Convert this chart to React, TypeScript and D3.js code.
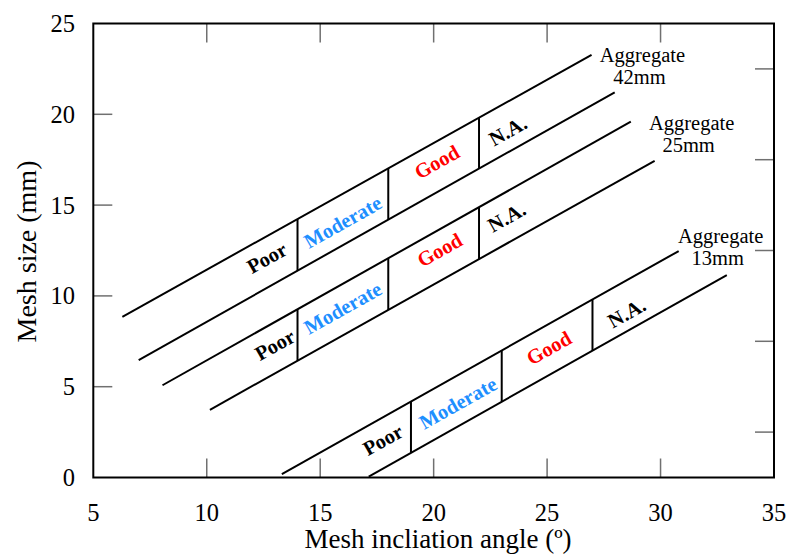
import React from "react";
import * as d3 from "d3";

const xTicks = [5, 10, 15, 20, 25, 30, 35];
const yTicks = [0, 5, 10, 15, 20, 25];
const yRightTicks = [2.5, 7.5, 12.5, 17.5, 22.5];

const aggregates = ["42mm", "25mm", "13mm"];
// boundary lines of each aggregate band: [xStart, yStart, xEnd, yEnd]
const upperLines = [
  [6.28, 8.85, 26.96, 23.27],
  [8.05, 5.08, 28.69, 19.59],
  [13.31, 0.19, 30.8, 12.47],
];
const lowerLines = [
  [7.0, 6.47, 27.98, 21.21],
  [10.14, 3.73, 29.74, 17.44],
  [17.14, 0.05, 32.92, 11.15],
];
const dividers = [
  [14, 18, 22],
  [14, 18, 22],
  [19, 23, 27],
];

const categories = ["Poor", "Moderate", "Good", "N.A."];
const categoryColors = ["#000000", "#1e8fff", "#ff0000", "#000000"];
const labelX = [
  [12.65, 16.0, 20.14, 23.27],
  [13.0, 16.0, 20.27, 23.22],
  [17.76, 21.07, 25.08, 28.51],
];
const labelY = [
  [12.09, 14.07, 17.37, 19.08],
  [7.3, 9.33, 12.53, 14.34],
  [2.07, 4.1, 7.13, 9.06],
];
const aggLabelX = [29.2, 31.37, 32.65];
const aggLabelY = [22.88, 19.14, 12.91];

const W = 790;
const H = 556;
const left = 93.3;
const right = 774;
const top = 23.5;
const bottom = 477.5;
const font = "'Liberation Serif', 'Times New Roman', serif";

export default function App() {
  const x = d3.scaleLinear().domain([5, 35]).range([left, right]);
  const y = d3.scaleLinear().domain([0, 25]).range([bottom, top]);
  const tickLen = 19;
  const tickColor = "#707070";

  const lineGen = d3
    .line<[number, number]>()
    .x((d) => x(d[0]))
    .y((d) => y(d[1]));

  const interp = (l: number[], xv: number) =>
    l[1] + ((l[3] - l[1]) * (xv - l[0])) / (l[2] - l[0]);

  const ref = lowerLines[0];
  const angle =
    (Math.atan2(y(ref[3]) - y(ref[1]), x(ref[2]) - x(ref[0])) * 180) / Math.PI;

  return (
    <svg
      width={W}
      height={H}
      style={{ position: "absolute", left: 0, top: 0, background: "#fff" }}
      fontFamily={font}
    >
      {/* ticks */}
      {xTicks.slice(1, -1).map((t) => (
        <g key={"xt" + t} stroke={tickColor} strokeWidth={1.5}>
          <line x1={x(t)} x2={x(t)} y1={bottom} y2={bottom - tickLen} />
          <line x1={x(t)} x2={x(t)} y1={top} y2={top + tickLen} />
        </g>
      ))}
      {yTicks.slice(1, -1).map((t) => (
        <line
          key={"yt" + t}
          x1={left}
          x2={left + tickLen}
          y1={y(t)}
          y2={y(t)}
          stroke={tickColor}
          strokeWidth={1.5}
        />
      ))}
      {yRightTicks.map((t) => (
        <line
          key={"yr" + t}
          x1={right}
          x2={right - tickLen}
          y1={y(t)}
          y2={y(t)}
          stroke={tickColor}
          strokeWidth={1.5}
        />
      ))}
      {/* frame */}
      <rect
        x={left}
        y={top}
        width={right - left}
        height={bottom - top}
        fill="none"
        stroke="#000"
        strokeWidth={2}
      />
      {/* tick labels */}
      {xTicks.map((t) => (
        <text
          key={"xl" + t}
          x={x(t)}
          y={521}
          textAnchor="middle"
          fontSize={24.5}
          fill="#000"
        >
          {t}
        </text>
      ))}
      {yTicks.map((t) => (
        <text
          key={"yl" + t}
          x={75}
          y={y(t)}
          dy="0.35em"
          textAnchor="end"
          fontSize={24.5}
          fill="#000"
        >
          {t}
        </text>
      ))}
      {/* axis titles */}
      <text x={438} y={548} textAnchor="middle" fontSize={27} fill="#000">
        Mesh incliation angle (º)
      </text>
      <text
        transform={`translate(36, 251.5) rotate(-90)`}
        textAnchor="middle"
        fontSize={28}
        fill="#000"
      >
        Mesh size (mm)
      </text>
      {/* band lines */}
      {aggregates.map((a, i) => (
        <g key={"band" + a} stroke="#000" strokeWidth={2} fill="none">
          <path
            d={
              lineGen([
                [upperLines[i][0], upperLines[i][1]],
                [upperLines[i][2], upperLines[i][3]],
              ]) || ""
            }
          />
          <path
            d={
              lineGen([
                [lowerLines[i][0], lowerLines[i][1]],
                [lowerLines[i][2], lowerLines[i][3]],
              ]) || ""
            }
          />
          {dividers[i].map((dx) => (
            <line
              key={"d" + dx}
              x1={x(dx)}
              x2={x(dx)}
              y1={y(interp(lowerLines[i], dx))}
              y2={y(interp(upperLines[i], dx))}
            />
          ))}
        </g>
      ))}
      {/* category labels */}
      {aggregates.map((a, i) =>
        categories.map((c, j) => (
          <text
            key={a + c}
            transform={`translate(${x(labelX[i][j])}, ${y(labelY[i][j])}) rotate(${angle})`}
            dy="0.34em"
            textAnchor="middle"
            fontSize={20.5}
            fontWeight="bold"
            fill={categoryColors[j]}
          >
            {c}
          </text>
        ))
      )}
      {/* aggregate labels */}
      {aggregates.map((a, i) => (
        <text
          key={"agg" + a}
          x={x(aggLabelX[i])}
          y={y(aggLabelY[i])}
          textAnchor="middle"
          fontSize={20.5}
          fill="#000"
        >
          <tspan x={x(aggLabelX[i])}>Aggregate</tspan>
          <tspan x={x(aggLabelX[i]) - 3} dy={22}>
            {a}
          </tspan>
        </text>
      ))}
    </svg>
  );
}
